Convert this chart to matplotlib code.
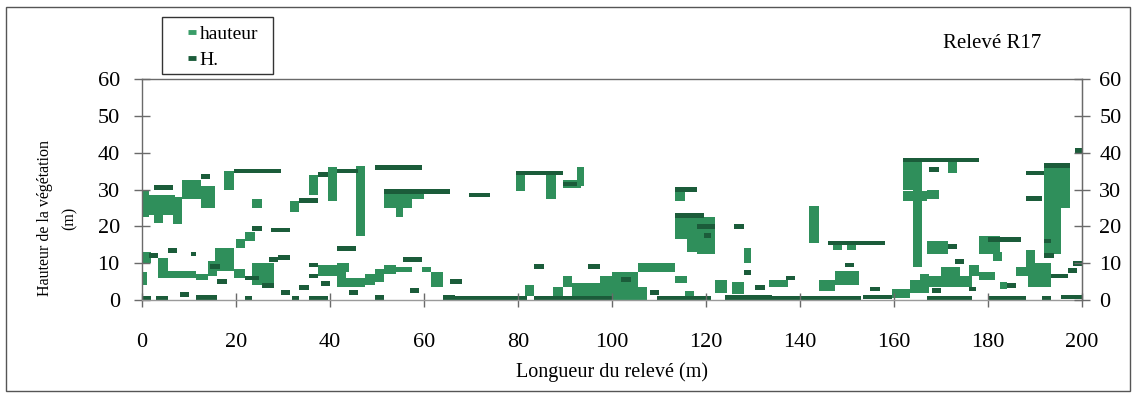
import matplotlib.pyplot as plt
from matplotlib.lines import Line2D
from matplotlib.patches import Rectangle

plt.rcParams['font.family'] = ['Liberation Serif', 'DejaVu Serif']

# --- "hauteur" : vegetation blocks (start m, end m, low height m, high height m)
haut_x0 = [0, 1.5, 2.5, 6.5, 8.5, 12.5, 17.5, 23.5, 31.5,
           0, 0, 3.5, 5.5, 11.5, 14, 15.5, 19.5, 20, 22, 23.5,
           35.5, 39.5, 45.5, 51.5, 54, 55.5, 57.5,
           37.5, 41.5, 41.5, 43.5, 47.5, 49.5, 51.5, 54, 59.5, 61.5,
           79.5, 86, 89.5, 92.5, 81.5, 89.5, 87.5, 91.5, 97.5,
           100, 105.5, 100, 113.5, 113.5, 116, 118, 113.5, 115.5, 122, 125.5, 128,
           142, 147, 150, 162, 162, 164, 165.5, 133.5, 144, 147.5, 159.5, 163.5,
           171.5, 167, 192, 195.5, 178, 181, 167, 186, 188, 188.5, 167, 170, 176, 178, 182.5]
haut_x1 = [1.5, 7, 4.5, 8.5, 12.5, 15.5, 19.5, 25.5, 33.5,
           2, 1, 5.5, 11.5, 14, 16, 19.5, 22, 22, 24, 28,
           37.5, 41.5, 47.5, 54, 55.5, 57.5, 60,
           41.5, 44, 43.5, 47.5, 49.5, 51.5, 54, 57.5, 61.5, 64,
           81.5, 88, 93.5, 94, 83.5, 91.5, 89.5, 100, 100,
           105.5, 113.5, 107.5, 115.5, 116, 118, 122, 116, 117.5, 124.5, 128, 129.5,
           144, 149, 152, 164.5, 167, 166, 167.5, 137.5, 147.5, 152.5, 163.5, 167.5,
           173.5, 169.5, 195.5, 197.5, 182.5, 183, 171.5, 188.5, 190, 193.5, 176.5, 174, 178, 181.5, 184]
haut_y0 = [22.5, 23, 21, 20.5, 27.5, 25, 30, 25, 24,
           10, 4, 6, 6, 5.5, 6.5, 8, 6, 14, 16, 4,
           28.5, 27, 17.5, 25, 22.5, 25, 27.5,
           6.5, 7.5, 3.5, 3.5, 4, 5, 7, 7.5, 7.5, 3.5,
           29.5, 27.5, 30.5, 31, 1, 3.5, 1, 1, 2,
           3.5, 7.5, 0, 27, 16.5, 13, 12.5, 4.5, 1, 2, 1.5, 10,
           15.5, 13.5, 13.5, 30, 27, 9, 5.5, 3.5, 2.5, 4, 0.5, 2,
           34.5, 27.5, 12.5, 25, 12.5, 10.5, 12.5, 6.5, 9, 3.5, 3.5, 6.5, 6.5, 5.5, 3]
haut_y1 = [30, 28.5, 23, 28, 32.5, 31, 35, 27.5, 27,
           13, 7.5, 11.5, 8, 7, 10.5, 14, 8.5, 16.5, 18.5, 10,
           34, 36, 36.5, 29.5, 29.5, 29.5, 29.5,
           9.5, 10, 7.5, 6, 7, 8.5, 9.5, 9, 9, 7.5,
           34.5, 34.5, 32.5, 36, 4, 6.5, 3.5, 4.5, 6.5,
           7.5, 10, 3.5, 30, 23, 23, 22.5, 6.5, 2.5, 5.5, 5, 14,
           25.5, 15.5, 15.5, 38, 29.5, 38, 7, 5.5, 5.5, 8, 3, 5.5,
           37.5, 30, 37, 37, 17.5, 13, 16, 9, 13.5, 10, 6.5, 9, 9.5, 7.5, 5]

# --- "H." : single height dashes (start m, end m, height m)
h_x0 = [19.5, 2.5, 12.5, 1.5, 5.5, 10.5, 16, 22, 23.5, 25.5, 27, 29, 27.5, 29.5,
        0, 3, 11.5, 22, 32, 14.5, 8, 38,
        33.5, 37.5, 41.5, 49.5, 51.5, 59.5, 41.5, 35.5, 35.5, 33.5, 55.5, 65.5,
        35.5, 49.5, 64, 44, 57,
        69.5, 79.5, 89.5, 83.5, 95, 66, 66, 83.5, 102, 108,
        113.5, 113.5, 118, 119.5, 126, 128, 109.5, 124, 130.5, 137,
        146, 149.5, 162, 133.5, 142, 153.5, 155, 168,
        167, 167.5, 188, 192, 188, 192, 192, 180, 171.5, 193.5, 197, 198, 198.5, 176,
        167, 180, 191.5, 195.5, 184, 173]
h_x1 = [29.5, 6.5, 14.5, 3.5, 7.5, 11.5, 18, 25, 25.5, 28, 29, 31.5, 31.5, 31.5,
        2, 5.5, 16, 23.5, 33.5, 16.5, 10, 40,
        37.5, 39.5, 46, 59.5, 60, 65.5, 45.5, 37.5, 37.5, 35.5, 59.5, 66.5,
        39.5, 51.5, 66.5, 46, 59,
        74, 89.5, 92.5, 85.5, 97.5, 68, 82, 100, 104, 110,
        118, 119.5, 122, 121, 128, 129.5, 121, 134, 132.5, 139,
        158, 151.5, 167.5, 142, 153, 159.5, 157, 170,
        178, 169.5, 192, 197.5, 191.5, 193.5, 194, 187, 173.5, 197, 199, 200, 200, 177.5,
        176.5, 188, 193.5, 200, 186, 175]
h_y = [35, 30.5, 33.5, 12, 13.5, 12.5, 5, 6, 19.5, 4, 11, 11.5, 19, 2,
       0.5, 0.5, 0.7, 0.5, 0.5, 9, 1.5, 4.5,
       27, 34, 35, 36, 29.5, 29.5, 14, 9.5, 6.5, 3.5, 11, 5,
       0.5, 0.7, 0.7, 2, 2.5,
       28.5, 34.5, 31.5, 9, 9, 5, 0.5, 0.5, 5.5, 2,
       30, 23, 20, 17.5, 20, 7.5, 0.5, 0.7, 3.5, 6,
       15.5, 9.5, 38, 0.5, 0.5, 0.8, 3, 2.5,
       38, 35.5, 34.5, 36.5, 27.5, 16, 12, 16.5, 14.5, 6.5, 8, 10, 40.5, 3,
       0.5, 0.5, 0.5, 0.8, 4, 10.5]

y_ticks = [0, 10, 20, 30, 40, 50, 60]
x_ticks = [0, 20, 40, 60, 80, 100, 120, 140, 160, 180, 200]

col_haut = '#2f8f5b'
col_h = '#1b5c3a'
dash = 1.3
grey = '#6a6a6a'

fig = plt.figure(figsize=(11.35, 3.99), dpi=100)
ax = fig.add_axes([0.1251, 0.2481, 0.8282, 0.5539])

w = [b - a for a, b in zip(haut_x0, haut_x1)]
hh = [b - a for a, b in zip(haut_y0, haut_y1)]
ax.bar(haut_x0, hh, width=w, bottom=haut_y0, align='edge', color=col_haut, linewidth=0)

w = [b - a for a, b in zip(h_x0, h_x1)]
ax.bar(h_x0, [dash] * len(h_y), width=w, bottom=[v - dash / 2 for v in h_y],
       align='edge', color=col_h, linewidth=0)

ax.set_xlim(0, 200)
ax.set_ylim(0, 60)
ax.set_xticks(x_ticks)
ax.set_yticks(y_ticks)
for s in ax.spines.values():
    s.set_color(grey)
    s.set_linewidth(1)
ax.spines['bottom'].set_color('#9a9a9a')
ax.tick_params(axis='y', direction='inout', length=12, width=1, color=grey,
               labelsize=16, pad=10)
ax.tick_params(axis='x', direction='inout', length=10, width=1, color=grey,
               labelsize=16, pad=19)

ax2 = ax.twinx()
ax2.set_ylim(0, 60)
ax2.set_yticks(y_ticks)
ax2.spines['right'].set_color(grey)
ax2.tick_params(axis='y', direction='inout', length=11, width=1, color=grey,
                labelsize=16, pad=7)
for s in ['left', 'top', 'bottom']:
    ax2.spines[s].set_visible(False)

ax.set_xlabel('Longueur du relevé (m)', fontsize=14.5, labelpad=7)
fig.text(57 / 1135, 1 - 218 / 399, 'Hauteur de la végétation\n(m)', rotation=90,
         ha='center', va='center', fontsize=11.5, multialignment='center',
         linespacing=1.7)
fig.text(992 / 1135, 1 - 43 / 399, 'Relevé R17', ha='center', va='center', fontsize=15)

# legend with its own box
fig.patches.append(Rectangle((162 / 1135, 1 - 74 / 399), 111 / 1135, 57 / 399,
                             transform=fig.transFigure, fill=False,
                             edgecolor='#333333', linewidth=1))
handles = [Line2D([], [], ls='none', marker='_', ms=6, mew=3.5, color='#3a9d68'),
           Line2D([], [], ls='none', marker='_', ms=6, mew=3.5, color=col_h)]
fig.legend(handles, ['hauteur', 'H.'], loc='center left',
           bbox_to_anchor=(176 / 1135, 1 - 47 / 399), frameon=False,
           fontsize=14, handlelength=0.6, handletextpad=0.1, labelspacing=0.45,
           borderpad=0)

# outer frame of the figure
fig.patches.append(Rectangle((6 / 1135, 1 - 391 / 399), 1124 / 1135, 384 / 399,
                             transform=fig.transFigure, fill=False,
                             edgecolor='#555555', linewidth=1))

fig.savefig('out.png', dpi=100)
